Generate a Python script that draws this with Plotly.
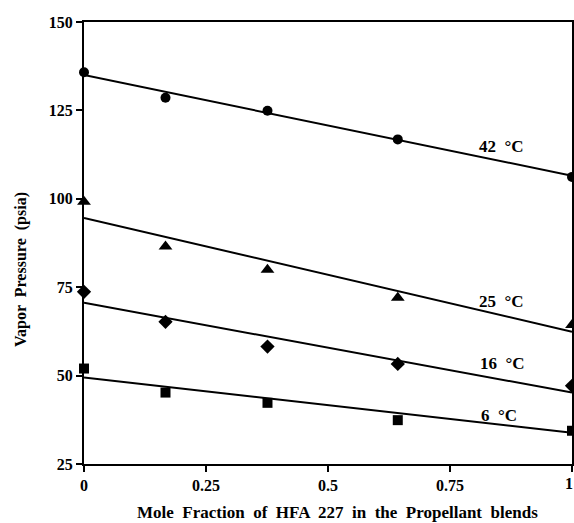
import plotly.graph_objects as go

x_frac = [0, 0.167, 0.376, 0.643, 1.0]
p42 = [135.8, 128.6, 124.9, 116.8, 106.2]
p25 = [99.2, 86.5, 79.9, 72.0, 64.3]
p16 = [73.7, 65.2, 58.2, 53.3, 47.1]
p6 = [52.0, 45.2, 42.3, 37.4, 34.4]

line_x = [0, 1]
fit42 = [135.0, 106.5]
fit25 = [94.6, 62.4]
fit16 = [70.6, 45.2]
fit6 = [49.5, 33.8]

labels = ["42  °C", "25  °C", "16  °C", "6  °C"]
label_x = [0.856, 0.856, 0.858, 0.85]
label_y = [114.7, 70.9, 53.3, 38.6]

xticks = [0, 0.25, 0.5, 0.75, 1]
xticktext = ["0", "0.25", "0.5", "0.75", "1"]
yticks = [25, 50, 75, 100, 125, 150]

x_title = "Mole  Fraction  of  HFA  227  in  the  Propellant  blends"
y_title = "Vapor  Pressure  (psia)"

SERIF = "Liberation Serif"

fig = go.Figure()
for fit in [fit42, fit25, fit16, fit6]:
    fig.add_trace(go.Scatter(x=line_x, y=fit, mode="lines",
                             line=dict(color="black", width=2),
                             showlegend=False, cliponaxis=False))
for vals, sym, sz in [(p42, "circle", 10), (p25, "triangle-up", 12),
                      (p16, "diamond", 11), (p6, "square", 10)]:
    fig.add_trace(go.Scatter(x=x_frac, y=vals, mode="markers",
                             marker=dict(symbol=sym, size=sz, color="black"),
                             showlegend=False, cliponaxis=False))

for t, lx, ly in zip(labels, label_x, label_y):
    fig.add_annotation(x=lx, y=ly, text=t, showarrow=False,
                       font=dict(family=SERIF, size=17, color="black", weight="bold"))

# last x tick label sits on the page edge (plotly hides it), draw it explicitly
fig.add_annotation(x=xticks[-1], xref="x", yref="paper", y=-0.043, text=xticktext[-1],
                   showarrow=False, xanchor="center", yanchor="middle", xshift=-3,
                   font=dict(family=SERIF, size=16, color="black", weight="bold"))

# axis titles as paper-anchored annotations
fig.add_annotation(xref="paper", yref="paper", x=0.52, y=-0.109, text=x_title,
                   showarrow=False, xanchor="center", yanchor="middle",
                   font=dict(family=SERIF, size=17, color="black", weight="bold"))
fig.add_annotation(xref="paper", yref="paper", x=-0.129, y=0.439, text=y_title,
                   showarrow=False, xanchor="center", yanchor="middle", textangle=-90,
                   font=dict(family=SERIF, size=16, color="black", weight="bold"))

fig.update_layout(
    width=574, height=523,
    margin=dict(l=84, r=2, t=22, b=59, autoexpand=False),
    paper_bgcolor="white", plot_bgcolor="white",
    font=dict(family=SERIF, size=16, color="black"),
    xaxis=dict(range=[0, 1], tickvals=xticks, ticktext=xticktext,
               showgrid=False, zeroline=False, showline=True, linecolor="black",
               linewidth=2, mirror=True, ticks="outside", ticklen=6, tickwidth=2,
               tickcolor="black", automargin=False,
               tickfont=dict(size=16, weight="bold")),
    yaxis=dict(range=[25, 150], tickvals=yticks,
               showgrid=False, zeroline=False, showline=True, linecolor="black",
               linewidth=2, mirror=True, ticks="outside", ticklen=6, tickwidth=2,
               tickcolor="black", automargin=False,
               tickfont=dict(size=16, weight="bold")),
)
fig.write_html("out.html", config={"displayModeBar": False},
               post_script="document.body.style.margin='0';document.body.style.overflow='hidden';")
